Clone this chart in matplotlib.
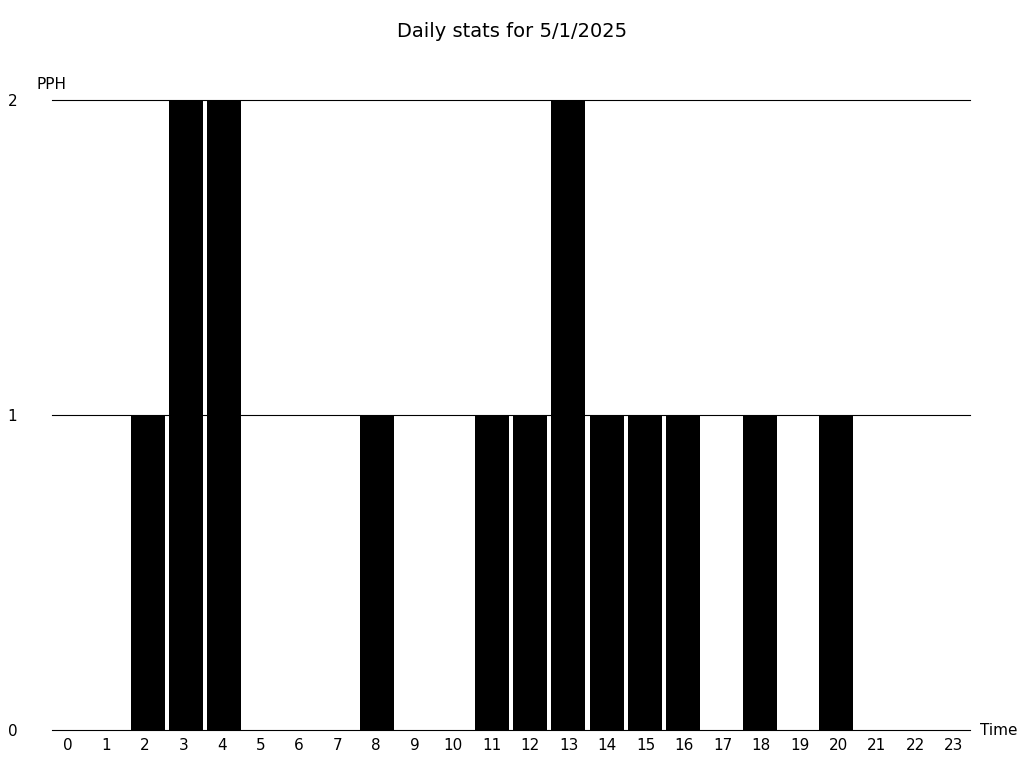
import matplotlib
matplotlib.use('Agg')
import matplotlib.pyplot as plt

hours = list(range(24))
pph = [0, 0, 1, 2, 2, 0, 0, 0, 1, 0, 0, 1, 1, 2, 1, 1, 1, 0, 1, 0, 1, 0, 0, 0]
title = 'Daily stats for 5/1/2025'

fig = plt.figure(figsize=(10.24, 7.68), dpi=100)
ax = fig.add_axes([0.0508, 0.0495, 0.8965, 0.8203])

ax.bar(hours, pph, width=0.89, color='black', zorder=2)
for y in [0, 1, 2]:
    ax.axhline(y, color='black', linewidth=0.8, zorder=1, clip_on=False)

ax.set_xlim(-0.5, 23.5)
ax.set_ylim(0, 2)
# tick labels sit on a slightly different spacing than the bands
ax.set_xticks([h * 1.007 - 0.08 for h in hours], [str(h) for h in hours])
ax.set_yticks([0, 1, 2])
ax.tick_params(length=0, labelsize=11, pad=6)
ax.tick_params(axis='y', pad=25)
for s in ax.spines.values():
    s.set_visible(False)

fig.text(0.036, 0.88, 'PPH', fontsize=11, ha='left', va='bottom')
fig.text(0.957, 0.049, 'Time', fontsize=11, ha='left', va='center')
fig.suptitle(title, fontsize=14, y=0.971)

fig.savefig('out.png', dpi=100)
